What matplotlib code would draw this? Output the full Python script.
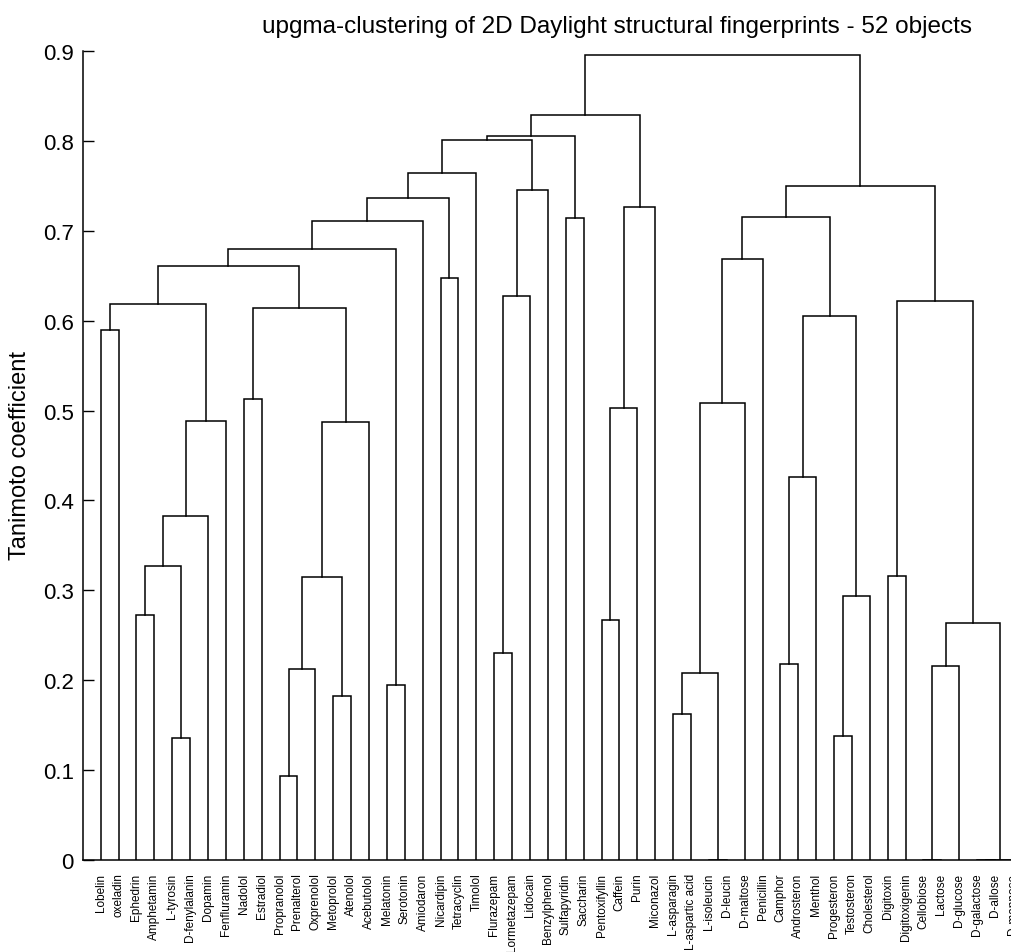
import matplotlib
matplotlib.use("Agg")
import matplotlib.pyplot as plt

plt.rcParams['font.family'] = ['Liberation Sans', 'DejaVu Sans']

# objetos, na ordem das folhas do dendrograma
compounds = [
    "Lobelin", "oxeladin", "Ephedrin", "Amphetamin", "L-tyrosin",
    "D-fenylalanin", "Dopamin", "Fenfluramin", "Nadolol", "Estradiol",
    "Propranolol", "Prenalterol", "Oxprenolol", "Metoprolol", "Atenolol",
    "Acebutolol", "Melatonin", "Serotonin", "Amiodaron", "Nicardipin",
    "Tetracyclin", "Timolol", "Flurazepam", "Lormetazepam", "Lidocain",
    "Benzylphenol", "Sulfapyridin", "Saccharin", "Pentoxifyllin", "Caffein",
    "Purin", "Miconazol", "L-asparagin", "L-aspartic acid", "L-isoleucin",
    "D-leucin", "D-maltose", "Penicillin", "Camphor", "Androsteron",
    "Menthol", "Progesteron", "Testosteron", "Cholesterol", "Digitoxin",
    "Digitoxigenin", "Cellobiose", "Lactose", "D-glucose", "D-galactose",
    "D-allose", "D-mannose",
]

# unioes upgma: nos 0-51 sao as folhas, o no 52+k nasce na uniao k
merge_a = [34, 46, 49, 54, 10, 4, 41, 32, 13, 16,
           59, 56, 53, 38, 22, 64, 28, 2, 58, 63,
           44, 69, 73, 65, 74, 71, 68, 62, 8, 0,
           75, 80, 81, 72, 66, 19, 84, 79, 88, 90,
           26, 89, 78, 91, 86, 93, 95, 98, 99, 100,
           101]
merge_b = [35, 47, 50, 51, 11, 5, 42, 33, 14, 17,
           52, 12, 48, 39, 23, 55, 29, 3, 43, 60,
           45, 57, 6, 40, 7, 15, 30, 36, 9, 1,
           70, 77, 76, 67, 24, 20, 83, 37, 61, 18,
           27, 82, 31, 87, 25, 85, 21, 96, 92, 94,
           97]
merge_height = [0.0, 0.0, 0.0, 0.0, 0.094, 0.136, 0.138, 0.162, 0.182, 0.195,
                0.208, 0.212, 0.216, 0.218, 0.230, 0.264, 0.267, 0.273, 0.294, 0.315,
                0.316, 0.327, 0.383, 0.426, 0.488, 0.487, 0.503, 0.509, 0.513, 0.590,
                0.605, 0.614, 0.619, 0.622, 0.628, 0.647, 0.661, 0.669, 0.680, 0.711,
                0.714, 0.715, 0.726, 0.736, 0.745, 0.750, 0.764, 0.801, 0.806, 0.829,
                0.896]

yticks = [0, 0.1, 0.2, 0.3, 0.4, 0.5, 0.6, 0.7, 0.8, 0.9]
ytick_labels = ["0", "0.1", "0.2", "0.3", "0.4", "0.5", "0.6", "0.7", "0.8", "0.9"]


def main():
    fig = plt.figure(figsize=(10.11, 9.53), dpi=100)
    # o eixo passa da borda direita, como no original
    ax = fig.add_axes([0.0819, 0.0965, 0.9377, 0.8489])

    n = len(compounds)
    xpos = [i + 1 for i in range(n)]
    hpos = [0.0] * n

    # desenhando cada uniao
    for a, b, h in zip(merge_a, merge_b, merge_height):
        ax.plot([xpos[a], xpos[a], xpos[b], xpos[b]],
                [hpos[a], h, h, hpos[b]],
                color="black", linewidth=1.1, solid_joinstyle="miter")
        xpos.append((xpos[a] + xpos[b]) / 2)
        hpos.append(h)

    ax.set_xlim(0, n + 1)
    ax.set_ylim(0, 0.9)
    ax.spines["top"].set_visible(False)
    ax.spines["right"].set_visible(False)
    ax.spines["left"].set_linewidth(1.1)
    ax.spines["bottom"].set_linewidth(1.1)

    ax.set_xticks(range(1, n + 1))
    ax.set_xticklabels(compounds, rotation=90, fontsize=8.5)
    ax.tick_params(axis="x", length=0, pad=9)

    ax.set_yticks(yticks)
    ax.set_yticklabels(ytick_labels, fontsize=16)
    ax.tick_params(axis="y", direction="in", length=8, width=1.0, pad=6.5)

    fig.text(20 / 1011, 1 - 455 / 953, "Tanimoto coefficient",
             rotation=90, ha="center", va="center", fontsize=17)
    fig.text(617 / 1011, 1 - 33 / 953,
             "upgma-clustering of 2D Daylight structural fingerprints - 52 objects",
             ha="center", va="baseline", fontsize=17.5)

    fig.savefig("out.png", dpi=100)


main()
